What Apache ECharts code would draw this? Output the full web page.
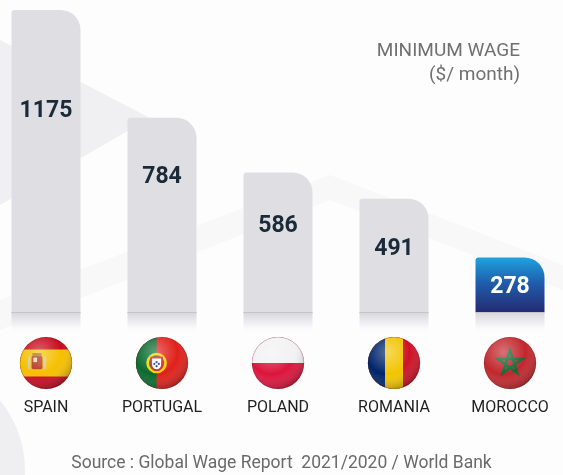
<!DOCTYPE html>
<html>
<head>
<meta charset="utf-8">
<script src="https://cdn.jsdelivr.net/npm/echarts@6/dist/echarts.min.js"></script>
<style>
html,body{margin:0;padding:0;background:#ffffff;}
#c{width:563px;height:475px;}
</style>
</head>
<body>
<div id="c"></div>
<script>
// ---- data ----
const countries = ['SPAIN', 'PORTUGAL', 'POLAND', 'ROMANIA', 'MOROCCO'];
const minimumWage = [1175, 784, 586, 491, 278];
const titleLines = ['MINIMUM WAGE', '($/ month)'];
const sourceText = 'Source : Global Wage Report  2021/2020 / World Bank';

// ---- styling ----
const labelDrop = [101, 59, 54, 51, 30];
const highlightIndex = 4;
const FONT = 'Roboto, "Noto Sans", sans-serif';

function svgUri(inner) {
  const svg = '<svg xmlns="http://www.w3.org/2000/svg" width="60" height="60" viewBox="0 0 60 60">' +
    '<defs><clipPath id="cp"><circle cx="30" cy="30" r="29"/></clipPath>' +
    '<radialGradient id="sh" cx="0.38" cy="0.3" r="0.75">' +
    '<stop offset="0" stop-color="#ffffff" stop-opacity="0.35"/>' +
    '<stop offset="0.55" stop-color="#ffffff" stop-opacity="0"/>' +
    '<stop offset="1" stop-color="#000000" stop-opacity="0.35"/></radialGradient></defs>' +
    '<g clip-path="url(#cp)">' + inner + '<rect x="0" y="0" width="60" height="60" fill="url(#sh)"/></g>' +
    '<circle cx="30" cy="30" r="28.6" fill="none" stroke="rgba(0,0,0,0.18)" stroke-width="0.8"/></svg>';
  return 'data:image/svg+xml;charset=utf-8,' + encodeURIComponent(svg);
}
const flags = [
  // Spain
  svgUri('<rect width="60" height="60" fill="#c60b1e"/><rect y="15" width="60" height="30" fill="#f5c000"/>' +
    '<rect x="14" y="22" width="12" height="15" rx="2" fill="#b5361f"/><rect x="16" y="24" width="4" height="5" fill="#e8d8b0"/>' +
    '<rect x="21" y="29" width="4" height="6" fill="#c0392b"/><rect x="10" y="23" width="2.5" height="14" fill="#d8c7a0"/>' +
    '<rect x="27.5" y="23" width="2.5" height="14" fill="#d8c7a0"/><rect x="15" y="19" width="10" height="3" fill="#a06a20"/>'),
  // Portugal
  svgUri('<rect width="60" height="60" fill="#e0201a"/><rect width="24" height="60" fill="#0a6a30"/>' +
    '<circle cx="24" cy="30" r="10" fill="none" stroke="#f7d000" stroke-width="3"/>' +
    '<path d="M18 24 h12 v8 a6 6 0 0 1 -12 0 z" fill="#ffffff" stroke="#d0201a" stroke-width="2"/>' +
    '<circle cx="24" cy="29" r="1.3" fill="#1a3a9a"/><circle cx="21.5" cy="31" r="1.2" fill="#1a3a9a"/><circle cx="26.5" cy="31" r="1.2" fill="#1a3a9a"/><circle cx="24" cy="33.5" r="1.2" fill="#1a3a9a"/>'),
  // Poland
  svgUri('<rect width="60" height="60" fill="#dc143c"/><rect width="60" height="30" fill="#f2f2f2"/>'),
  // Romania
  svgUri('<rect width="60" height="60" fill="#ce1126"/><rect width="40" height="60" fill="#f2c400"/><rect width="20" height="60" fill="#00246b"/>'),
  // Morocco
  svgUri('<rect width="60" height="60" fill="#c1272d"/><path d="M30 16 L38.23 41.33 L16.69 25.67 L43.31 25.67 L21.77 41.33 Z" fill="none" stroke="#0b6a35" stroke-width="2.8" stroke-linejoin="miter"/>')
];

const rich = {
  n: { fontSize: 16, lineHeight: 36, color: '#1f1f1f', fontFamily: FONT, align: 'center' }
};
flags.forEach(function (f, i) {
  rich['f' + i] = { width: 54, height: 54, align: 'center', backgroundColor: { image: f } };
});

const greyBar = '#dfdfe3';
const blueBar = {
  type: 'linear', x: 0, y: 0, x2: 0, y2: 1,
  colorStops: [
    { offset: 0, color: '#1ea4de' },
    { offset: 0.45, color: '#1f5fae' },
    { offset: 1, color: '#252a72' }
  ]
};

const seriesData = minimumWage.map(function (v, i) {
  const hi = i === highlightIndex;
  return {
    value: v,
    itemStyle: { color: hi ? blueBar : greyBar },
    label: {
      position: ['50%', labelDrop[i]],
      align: 'center',
      verticalAlign: 'middle',
      color: hi ? '#ffffff' : '#1b2a39'
    }
  };
});

const YMIN = 80;

const bgShapes = [
  { type: 'polygon', z: -10, shape: { points: [[0, 40], [150, 118], [0, 205]] }, style: { fill: '#f0f0f2' } },
  { type: 'polygon', z: -10, shape: { points: [[0, 300], [330, 175], [563, 265], [563, 290], [330, 200], [0, 330]] }, style: { fill: '#f8f8f9' } },
  { type: 'circle', z: -10, shape: { cx: -85, cy: 470, r: 110 }, style: { fill: '#efeff1' } }
];

const chart = echarts.init(document.getElementById('c'), null, { renderer: 'canvas' });

chart.setOption({
  backgroundColor: '#fdfdfd',
  animation: false,
  title: [
    { text: titleLines[0], right: 38, top: 37, textStyle: { fontSize: 19, fontWeight: 'normal', color: '#707070', fontFamily: FONT } },
    { text: titleLines[1], right: 38, top: 61, textStyle: { fontSize: 19, fontWeight: 'normal', color: '#707070', fontFamily: FONT } },
    { text: sourceText, left: 'center', top: 450, textStyle: { fontSize: 17.5, fontWeight: 'normal', color: '#6a6a6a', fontFamily: FONT } }
  ],
  grid: { left: 46, right: 53, top: 10, bottom: 163, containLabel: false },
  xAxis: {
    type: 'category',
    data: countries,
    boundaryGap: false,
    axisLine: { show: false },
    axisTick: { show: false },
    axisLabel: {
      interval: 0,
      margin: 24,
      formatter: function (value, idx) {
        return '{f' + idx + '|}\n{n|' + value + '}';
      },
      rich: rich
    }
  },
  yAxis: {
    type: 'value',
    min: YMIN,
    max: minimumWage[0],
    show: false,
    splitLine: { show: false }
  },
  series: [{
    type: 'bar',
    data: seriesData,
    barWidth: 69,
    clip: true,
    itemStyle: { borderRadius: [3, 20, 0, 0] },
    label: {
      show: true,
      fontSize: 23,
      fontWeight: 'bold',
      fontFamily: FONT
    }
  }],
  graphic: bgShapes
});

// reflection/shadow strip under each bar, placed through the chart's own scales
const shadows = [];
countries.forEach(function (c, i) {
  const p = chart.convertToPixel({ seriesIndex: 0 }, [i, YMIN]);
  shadows.push({
    type: 'rect', z: 5,
    shape: { x: p[0] - 34.5, y: p[1], width: 69, height: 21 },
    style: {
      fill: {
        type: 'linear', x: 0, y: 0, x2: 0, y2: 1,
        colorStops: [
          { offset: 0, color: '#cfcfd4' },
          { offset: 0.1, color: '#dcdce0' },
          { offset: 0.8, color: '#fbfbfc' },
          { offset: 1, color: '#fdfdfd' }
        ]
      }
    }
  });
  shadows.push({
    type: 'line', z: 6,
    shape: { x1: p[0] - 34.5, y1: p[1] + 0.5, x2: p[0] + 34.5, y2: p[1] + 0.5 },
    style: { stroke: '#c4c4c9', lineWidth: 1 }
  });
});
chart.setOption({ graphic: bgShapes.concat(shadows) });
</script>
</body>
</html>
